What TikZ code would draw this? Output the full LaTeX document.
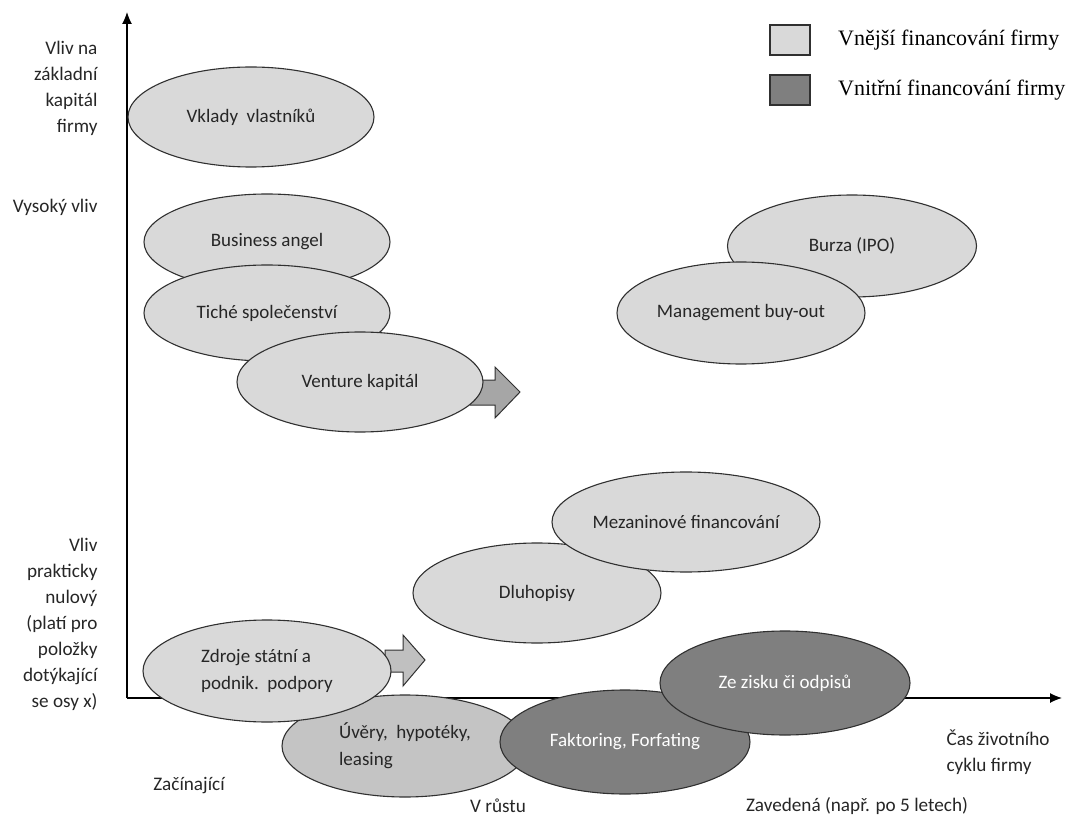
\documentclass[tikz,border=0pt]{standalone}
\usepackage{fontspec}
\setmainfont{Carlito}
\newfontfamily\legendfont{Liberation Serif}
\usetikzlibrary{shapes.geometric, arrows.meta, positioning, calc}

\definecolor{extfill}{HTML}{D9D9D9}
\definecolor{loanfill}{HTML}{C4C4C4}
\definecolor{intfill}{HTML}{7F7F7F}
\definecolor{arrowfill}{HTML}{A6A6A6}
\definecolor{arrowlight}{HTML}{C0C0C0}
\definecolor{edgecol}{HTML}{303030}
\definecolor{txtcol}{HTML}{262626}

\tikzset{
  source/.style={ellipse, draw=edgecol, line width=1.1pt, fill=extfill, text=txtcol,
    minimum width=246pt, minimum height=100pt, inner sep=0pt,
    font=\fontsize{19}{27}\selectfont, align=center},
  inner/.style={source, fill=intfill, text=white},
  fatarrow/.style={draw=edgecol, line width=1pt, fill=arrowfill},
  axislabel/.style={font=\fontsize{19.2}{26}\selectfont, text=txtcol},
  legendbox/.style={draw=edgecol, line width=1.2pt, minimum width=40pt, minimum height=30pt, inner sep=0pt},
  legendtext/.style={font=\legendfont\fontsize{22}{26}\selectfont, anchor=west, text=black}
}

\begin{document}
\begin{tikzpicture}[x=1pt, y=-1pt, >={Latex[length=12pt, width=10pt]}]
\useasboundingbox (0,0) rectangle (1072,821);

% axes
\coordinate (origin) at (127,698);
\coordinate (ytop) at (127,12);
\coordinate (xend) at (1062,698);
\draw[->, line width=1.2pt] (origin) -- (ytop);
\draw[->, line width=1.2pt] (origin) -- (xend);

% axis texts
\node[axislabel, align=right, anchor=north east] (capital) at (101,38) {Vliv na\\základní\\kapitál\\firmy};
\node[axislabel, anchor=east] (high) at (101,207) {Vysoký vliv};
\node[axislabel, align=right, anchor=north east] (zero) at (101,535) {Vliv\\prakticky\\nulový\\(platí pro\\položky\\dotýkající\\se osy x)};
\node[axislabel] (start) at (189,786) {Začínající};
\node[axislabel] (growth) at (498,806) {V růstu};
\node[axislabel] (mature) at (857,806) {Zavedená (např. po 5 letech)};
\node[axislabel, align=left, anchor=north west] (time) at (943,726) {Čas životního\\cyklu firmy};

% legend
\node[legendbox, fill=extfill] (extbox) at (790,40) {};
\node[legendbox, fill=intfill] (intbox) at (790,90) {};
\node[legendtext, right=24pt of extbox] (extlabel) {Vnější financování firmy};
\node[legendtext, right=24pt of intbox] (intlabel) {Vnitřní financování firmy};

% upper sources
\node[source] (owners) at (251,117) {Vklady\ \ vlastníků};
\node[source, minimum height=96pt] (angel) at (267,242) {Business angel};
\node[source, minimum height=96pt] (silent) at (267,313) {Tiché společenství};
\draw[fatarrow] (470,380) -- (495,380) -- (495,367) -- (520,392) -- (495,418) -- (495,405) -- (470,405) -- cycle;
\node[source] (venture) at (360,382) {Venture kapitál};
\node[source, minimum width=249pt, minimum height=102pt] (ipo) at (852,246) {Burza (IPO)};
\node[source, minimum width=248pt, minimum height=102pt] (mbo) at (741,313) {Management buy-out};

% lower sources
\node[source, minimum width=248pt] (bonds) at (537,593) {Dluhopisy};
\node[source, minimum width=268pt, minimum height=100pt] (mezz) at (686,522) {Mezaninové financování};
\node[source, fill=loanfill, minimum width=246pt, minimum height=102pt, align=left] (loans) at (405,746) {Úvěry,\ \ hypotéky,\\leasing};
\draw[fatarrow, fill=arrowlight] (385,650) -- (403,650) -- (403,635) -- (425,660) -- (403,686) -- (403,672) -- (385,672) -- cycle;
\node[source, minimum width=248pt, minimum height=102pt, align=left] (grants) at (267,671) {Zdroje státní a\\podnik.\ \ podpory};
\node[inner, minimum width=250pt, minimum height=104pt] (factoring) at (625,742) {Faktoring, Forfating};
\node[inner, minimum width=250pt, minimum height=104pt] (profit) at (785,683) {Ze zisku či odpisů};
\end{tikzpicture}
\end{document}
